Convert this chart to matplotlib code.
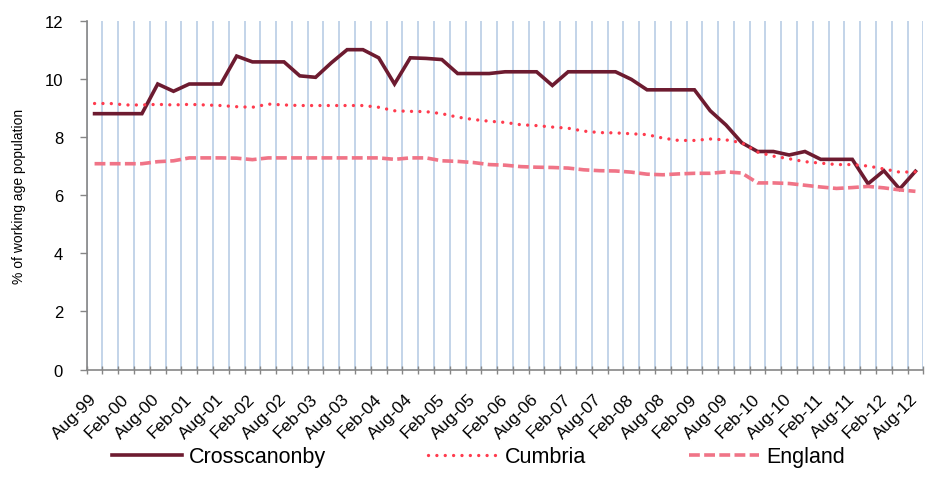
import matplotlib
matplotlib.use('Agg')
import matplotlib.pyplot as plt
from matplotlib.ticker import FixedLocator, NullFormatter

plt.rcParams['font.family'] = ['Liberation Sans', 'DejaVu Sans']

# quarterly, Aug-99 .. Aug-12 (53 points), labels every second quarter
tick_labels = ['Aug-99', 'Feb-00', 'Aug-00', 'Feb-01', 'Aug-01', 'Feb-02', 'Aug-02',
               'Feb-03', 'Aug-03', 'Feb-04', 'Aug-04', 'Feb-05', 'Aug-05', 'Feb-06',
               'Aug-06', 'Feb-07', 'Aug-07', 'Feb-08', 'Aug-08', 'Feb-09', 'Aug-09',
               'Feb-10', 'Aug-10', 'Feb-11', 'Aug-11', 'Feb-12', 'Aug-12']

crosscanonby = [8.8, 8.8, 8.8, 8.8, 9.82, 9.57, 9.82, 9.82, 9.82, 10.78,
                10.58, 10.58, 10.58, 10.1, 10.05, 10.55, 11.0, 11.0, 10.72, 9.82,
                10.72, 10.7, 10.66, 10.18, 10.18, 10.18, 10.24, 10.24, 10.24, 9.77,
                10.24, 10.24, 10.24, 10.24, 9.98, 9.62, 9.62, 9.62, 9.62, 8.9,
                8.41, 7.8, 7.5, 7.5, 7.38, 7.5, 7.23, 7.23, 7.23, 6.39,
                6.84, 6.21, 6.82]

cumbria = [9.15, 9.15, 9.1, 9.1, 9.12, 9.1, 9.12, 9.1, 9.08, 9.04,
           9.02, 9.13, 9.1, 9.08, 9.08, 9.08, 9.08, 9.08, 9.02, 8.9,
           8.88, 8.87, 8.8, 8.68, 8.6, 8.54, 8.5, 8.42, 8.39, 8.34,
           8.3, 8.2, 8.15, 8.14, 8.11, 8.08, 7.96, 7.88, 7.88, 7.93,
           7.9, 7.8, 7.48, 7.34, 7.25, 7.15, 7.1, 7.05, 7.05, 7.0,
           6.9, 6.79, 6.8]

england = [7.08, 7.08, 7.08, 7.08, 7.15, 7.18, 7.28, 7.28, 7.28, 7.27,
           7.22, 7.28, 7.28, 7.28, 7.28, 7.28, 7.28, 7.28, 7.28, 7.23,
           7.28, 7.28, 7.18, 7.16, 7.12, 7.05, 7.03, 6.98, 6.96, 6.95,
           6.93, 6.87, 6.84, 6.83, 6.79, 6.72, 6.7, 6.73, 6.75, 6.75,
           6.8, 6.76, 6.42, 6.42, 6.4, 6.34, 6.28, 6.23, 6.26, 6.3,
           6.25, 6.18, 6.13]

n = len(crosscanonby)
x = list(range(n))

fig = plt.figure(figsize=(9.32, 5.02), dpi=100)
ax = fig.add_axes([0.093, 0.2616, 0.8977, 0.6954])

ax.plot(x, crosscanonby, color='#6d1b30', lw=2.6, label='Crosscanonby', zorder=3,
        solid_joinstyle='miter')
ax.plot(x, cumbria, color='#ff3b4e', lw=2.4, linestyle=(0, (0.01, 2.5)),
        dash_capstyle='round', label='Cumbria', zorder=3)
ax.plot(x, england, color='#f07487', lw=2.6, linestyle=(0, (3.0, 1.2)),
        label='England', zorder=3)

ax.set_xlim(-0.5, n - 0.5)
ax.set_ylim(0, 12)
ax.set_yticks(range(0, 13, 2))

# category boundaries: gridlines and tick marks
bounds = [i - 0.5 for i in range(n + 1)]
ax.xaxis.set_minor_locator(FixedLocator(bounds))
ax.xaxis.set_minor_formatter(NullFormatter())
ax.set_xticks(range(0, n, 2))
ax.set_xticklabels(tick_labels, rotation=45, ha='right', va='center',
                   rotation_mode='anchor', fontsize=12.5)
ax.tick_params(axis='x', which='major', length=0, pad=19)
ax.tick_params(axis='x', which='minor', length=6, direction='inout',
               color='#868686', width=1)
ax.grid(True, axis='x', which='minor', color='#b9cde5', lw=1.2, zorder=0)
ax.tick_params(axis='y', length=5, color='#868686', width=1, labelsize=12, pad=12)

for side in ['top', 'right']:
    ax.spines[side].set_visible(False)
for side in ['left', 'bottom']:
    ax.spines[side].set_color('#868686')
    ax.spines[side].set_linewidth(1.2)

ax.set_ylabel('% of working age population', fontsize=10, labelpad=13)

fig.legend(loc='center', bbox_to_anchor=(0.513, 0.088), ncol=3, frameon=False,
           fontsize=15.5, handlelength=3.25, handletextpad=0.33, columnspacing=4.75)

fig.savefig('out.png', dpi=100)
